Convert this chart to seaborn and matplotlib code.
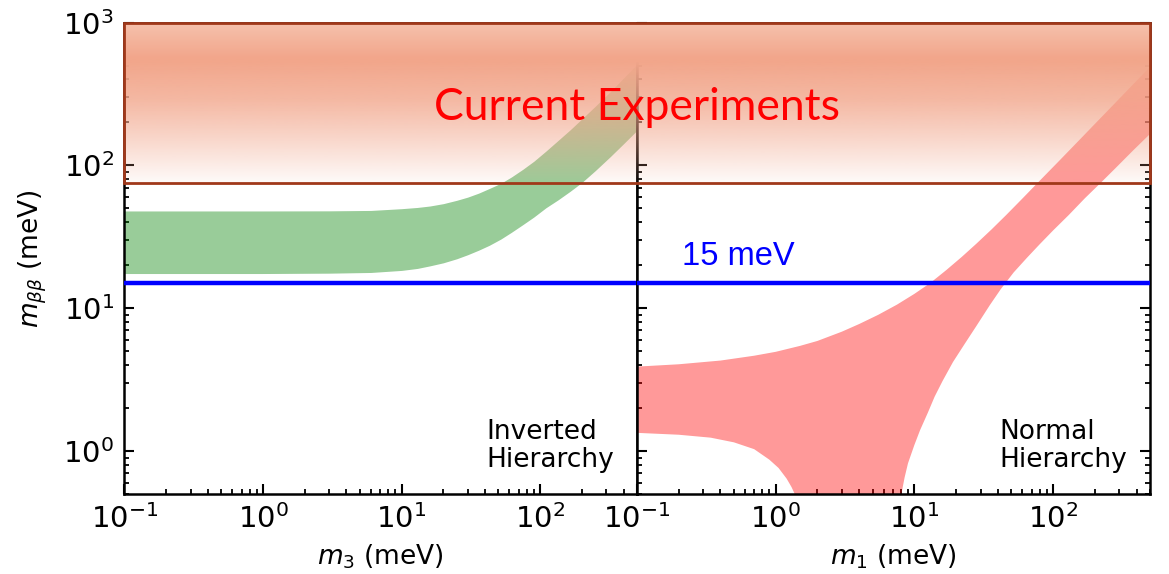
import numpy as np
import matplotlib
matplotlib.use("Agg")
import matplotlib.pyplot as plt
import seaborn as sns
from matplotlib.patches import Rectangle

# Inverted hierarchy: allowed m_bb band versus lightest mass m3 (meV)
ih_m3 = [0.1, 1, 3, 6, 10, 13, 16, 20, 25, 30, 36, 43, 52, 62, 75, 90,
         110, 135, 165, 200, 250, 320, 400, 500]
ih_upper = [48, 48, 48.1, 48.4, 49.8, 50.8, 52, 54, 57, 60, 64, 69, 75, 83,
            94, 107, 126, 150, 178, 212, 260, 328, 410, 512]
ih_lower = [17.5, 17.5, 17.6, 17.8, 18.4, 19.0, 19.8, 20.8, 22.2, 23.7, 25.5,
            27.6, 30.5, 34, 38.5, 43.5, 50.5, 57.5, 66, 76, 92, 115, 142, 176]

# Normal hierarchy: allowed m_bb band versus lightest mass m1 (meV)
nh_upper_m1 = [0.1, 0.2, 0.4, 0.7, 1.0, 1.5, 2.0, 3.0, 4.0, 5.5, 7.5, 10, 13,
               17, 22, 28, 36, 46, 60, 80, 110, 150, 200, 300, 500]
nh_upper = [3.9, 4.05, 4.3, 4.65, 4.95, 5.45, 5.9, 6.85, 7.75, 9.0, 10.6, 12.6,
            15.0, 18.5, 22.9, 28.3, 35.6, 45, 58.5, 78, 107, 146, 195, 293, 490]
nh_lower_m1 = [0.1, 0.2, 0.34, 0.5, 0.7, 0.9, 1.05, 1.2, 1.3, 1.4, 1.5, 1.6,
               1.8, 2.0, 5.0, 7.0, 7.5, 7.9, 8.5, 9.0, 10, 11, 12.5, 14, 16,
               19, 23, 28, 35, 42, 52, 65, 80, 100, 130, 170, 213, 280, 380, 500]
nh_lower = [1.34, 1.30, 1.24, 1.15, 1.03, 0.87, 0.76, 0.64, 0.56, 0.48, 0.38,
            0.28, 0.12, 0.05, 0.05, 0.15, 0.3, 0.45, 0.65, 0.82, 1.1, 1.4,
            1.85, 2.4, 3.1, 4.2, 5.6, 7.5, 10.5, 13.6, 17.8, 22.6, 28, 35, 45,
            59, 73, 95, 128, 166]

# Sensitivity goal and reach of current experiments (meV)
goal_level = 15
experiments_low = 75
experiments_high = 1000

mass_range = (0.1, 500)
mbb_range = (0.5, 1000)

sns.set_style("ticks")
plt.rcParams["font.family"] = ["DejaVu Sans"]
plt.rcParams.update({
    "text.color": "black",
    "axes.labelcolor": "black",
    "xtick.color": "black",
    "ytick.color": "black",
    "axes.edgecolor": "black",
    "axes.linewidth": 1.8,
    "xtick.direction": "in",
    "ytick.direction": "in",
    "xtick.major.size": 7, "ytick.major.size": 7,
    "xtick.minor.size": 3.5, "ytick.minor.size": 3.5,
    "xtick.major.width": 1.5, "ytick.major.width": 1.5,
    "xtick.minor.width": 1.3, "ytick.minor.width": 1.3,
    "xtick.major.pad": 7.5, "ytick.major.pad": 7.5,
    "xtick.labelsize": 21, "ytick.labelsize": 21,
    "axes.labelsize": 19,
})

fig = plt.figure(figsize=(11.69, 5.74), dpi=100)
ax_ih = fig.add_axes([0.1065, 0.1394, 0.4384, 0.8211])
ax_nh = fig.add_axes([0.5449, 0.1394, 0.4388, 0.8211])

# Mass bands
ax_ih.fill_between(ih_m3, ih_lower, ih_upper, color="green", alpha=0.4,
                   linewidth=0, zorder=1)
nh_x = np.concatenate([nh_upper_m1, nh_lower_m1[::-1]])
nh_y = np.concatenate([nh_upper, nh_lower[::-1]])
ax_nh.fill(nh_x, nh_y, color="red", alpha=0.4, linewidth=0, zorder=1)

# Goal line across both panels
for ax in (ax_ih, ax_nh):
    sns.lineplot(x=list(mass_range), y=[goal_level, goal_level], ax=ax,
                 color="blue", linewidth=3.2, zorder=4)
    ax.set_xscale("log")
    ax.set_yscale("log")
    ax.set_xlim(*mass_range)
    ax.set_ylim(*mbb_range)

ax_nh.text(0.21, 20, f"{goal_level} meV", color="blue", fontsize=23.5,
           family=["Liberation Sans", "DejaVu Sans"], ha="left", va="baseline")

ax_ih.tick_params(which="both", left=True, right=False, top=False, bottom=True)
ax_nh.tick_params(which="both", left=True, right=True, top=False, bottom=True,
                  labelleft=False)

ax_ih.set_xlabel("$m_3$ (meV)", labelpad=6)
ax_nh.set_xlabel("$m_1$ (meV)", labelpad=6)
ax_ih.set_ylabel(r"$m_{\beta\beta}$ (meV)", labelpad=10)

ax_ih.text(41, 0.70, "Inverted\nHierarchy", fontsize=19, ha="left",
           va="bottom", linespacing=1.1)
ax_nh.text(41, 0.70, "Normal\nHierarchy", fontsize=19, ha="left",
           va="bottom", linespacing=1.1)

# Region excluded by current experiments, spanning both panels
to_fig = fig.transFigure.inverted()
x0, y0 = to_fig.transform(ax_ih.transData.transform((mass_range[0], experiments_low)))
x1, y1 = to_fig.transform(ax_nh.transData.transform((mass_range[1], experiments_high)))
ax_box = fig.add_axes([x0, y0, x1 - x0, y1 - y0])
ax_box.set_axis_off()

# vertical shading: lighter opaque top, strongest near the upper quarter,
# fading out toward the lower edge
t = np.linspace(0, 1, 256)
top_col = np.array([246, 194, 174]) / 255
mid_col = np.array([242, 166, 139]) / 255
mix = np.clip(t / 0.22, 0, 1)[:, None]
colours = top_col * (1 - mix) + mid_col * mix
alpha = np.interp(t, [0, 0.25, 0.48, 0.73, 1.0], [1.0, 1.0, 0.8, 0.45, 0.05])
rgba = np.zeros((256, 1, 4))
rgba[:, 0, :3] = colours
rgba[:, 0, 3] = alpha
ax_box.imshow(rgba, aspect="auto", extent=(0, 1, 0, 1), interpolation="bilinear")
ax_box.set_xlim(0, 1)
ax_box.set_ylim(0, 1)
ax_box.add_patch(Rectangle((0, 0), 1, 1, transform=ax_box.transAxes, fill=False,
                           edgecolor="#a0381a", linewidth=2.0, clip_on=False))
ax_box.text(0.5, 0.393, "Current Experiments", transform=ax_box.transAxes,
            color="red", fontsize=32, family=["Lato", "DejaVu Sans"],
            ha="center", va="baseline")

fig.savefig("out.png", dpi=100)
